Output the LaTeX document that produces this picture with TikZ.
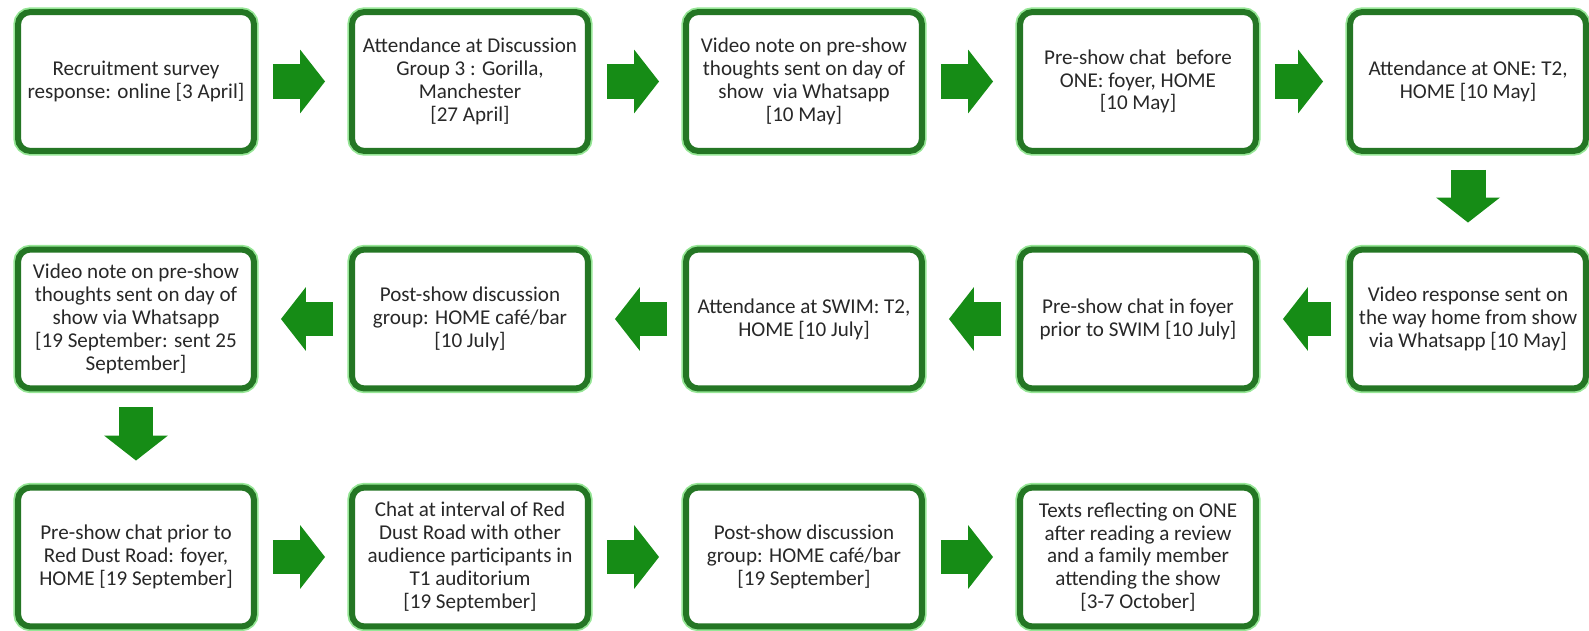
\documentclass[tikz,border=0pt]{standalone}
\usepackage{fontspec}
\setmainfont{Carlito}
\usepackage{tikz}
\usetikzlibrary{arrows.meta}

\definecolor{StageGreen}{RGB}{36,118,36}
\definecolor{GlowGreen}{RGB}{150,230,150}
\definecolor{ArrowGreen}{RGB}{22,140,22}
\definecolor{TextGrey}{RGB}{40,40,40}

\begin{document}
\begin{tikzpicture}[x=0.02cm, y=-0.02cm]
		\tikzstyle{Stage}	= [draw=StageGreen, line width=0.12cm, rounded corners=0.25cm, fill=white, preaction={draw=GlowGreen, line width=0.19cm}, text=TextGrey, align=center, minimum width=4.72cm, minimum height=2.78cm, inner sep=0pt, font=\fontsize{12}{13}\selectfont]
		\tikzstyle{Flow}	= [draw=ArrowGreen, line width=0.7cm, -{Triangle[length=0.5cm, width=1.28cm, line width=0pt]}, shorten <=0.32cm, shorten >=0.48cm]

		\useasboundingbox (0,0) rectangle (1589,631);

		\node (s1) at (136,81.5) [Stage] {Recruitment survey\\response: online [3 April]};
		\node (s2) at (470,81.5) [Stage] {Attendance at Discussion\\Group 3 : Gorilla,\\Manchester\\{}[27 April]};
		\node (s3) at (804,81.5) [Stage] {Video note on pre-show\\thoughts sent on day of\\show \ via Whatsapp\\{}[10 May]};
		\node (s4) at (1138,81.5) [Stage] {Pre-show chat \ before\\ONE: foyer, HOME\\{}[10 May]};
		\node (s5) at (1468,81.5) [Stage] {Attendance at ONE: T2,\\HOME [10 May]};

		\node (s6) at (1468,319) [Stage] {Video response sent on\\the way home from show\\via Whatsapp [10 May]};
		\node (s7) at (1138,319) [Stage] {Pre-show chat in foyer\\prior to SWIM [10 July]};
		\node (s8) at (804,319) [Stage] {Attendance at SWIM: T2,\\HOME [10 July]};
		\node (s9) at (470,319) [Stage] {Post-show discussion\\group: HOME café/bar\\{}[10 July]};
		\node (s10) at (136,319) [Stage] {Video note on pre-show\\thoughts sent on day of\\show via Whatsapp\\{}[19 September: sent 25\\September]};

		\node (s11) at (136,557) [Stage] {Pre-show chat prior to\\Red Dust Road: foyer,\\HOME [19 September]};
		\node (s12) at (470,557) [Stage] {Chat at interval of Red\\Dust Road with other\\audience participants in\\T1 auditorium\\{}[19 September]};
		\node (s13) at (804,557) [Stage] {Post-show discussion\\group: HOME café/bar\\{}[19 September]};
		\node (s14) at (1138,557) [Stage] {Texts reflecting on ONE\\after reading a review\\and a family member\\attending the show\\{}[3-7 October]};

		\draw [Flow] (s1) to (s2);
		\draw [Flow] (s2) to (s3);
		\draw [Flow] (s3) to (s4);
		\draw [Flow] (s4) to (s5);
		\draw [Flow] (s5) to (s6);
		\draw [Flow] (s6) to (s7);
		\draw [Flow] (s7) to (s8);
		\draw [Flow] (s8) to (s9);
		\draw [Flow] (s9) to (s10);
		\draw [Flow] (s10) to (s11);
		\draw [Flow] (s11) to (s12);
		\draw [Flow] (s12) to (s13);
		\draw [Flow] (s13) to (s14);
	\end{tikzpicture}
\end{document}
